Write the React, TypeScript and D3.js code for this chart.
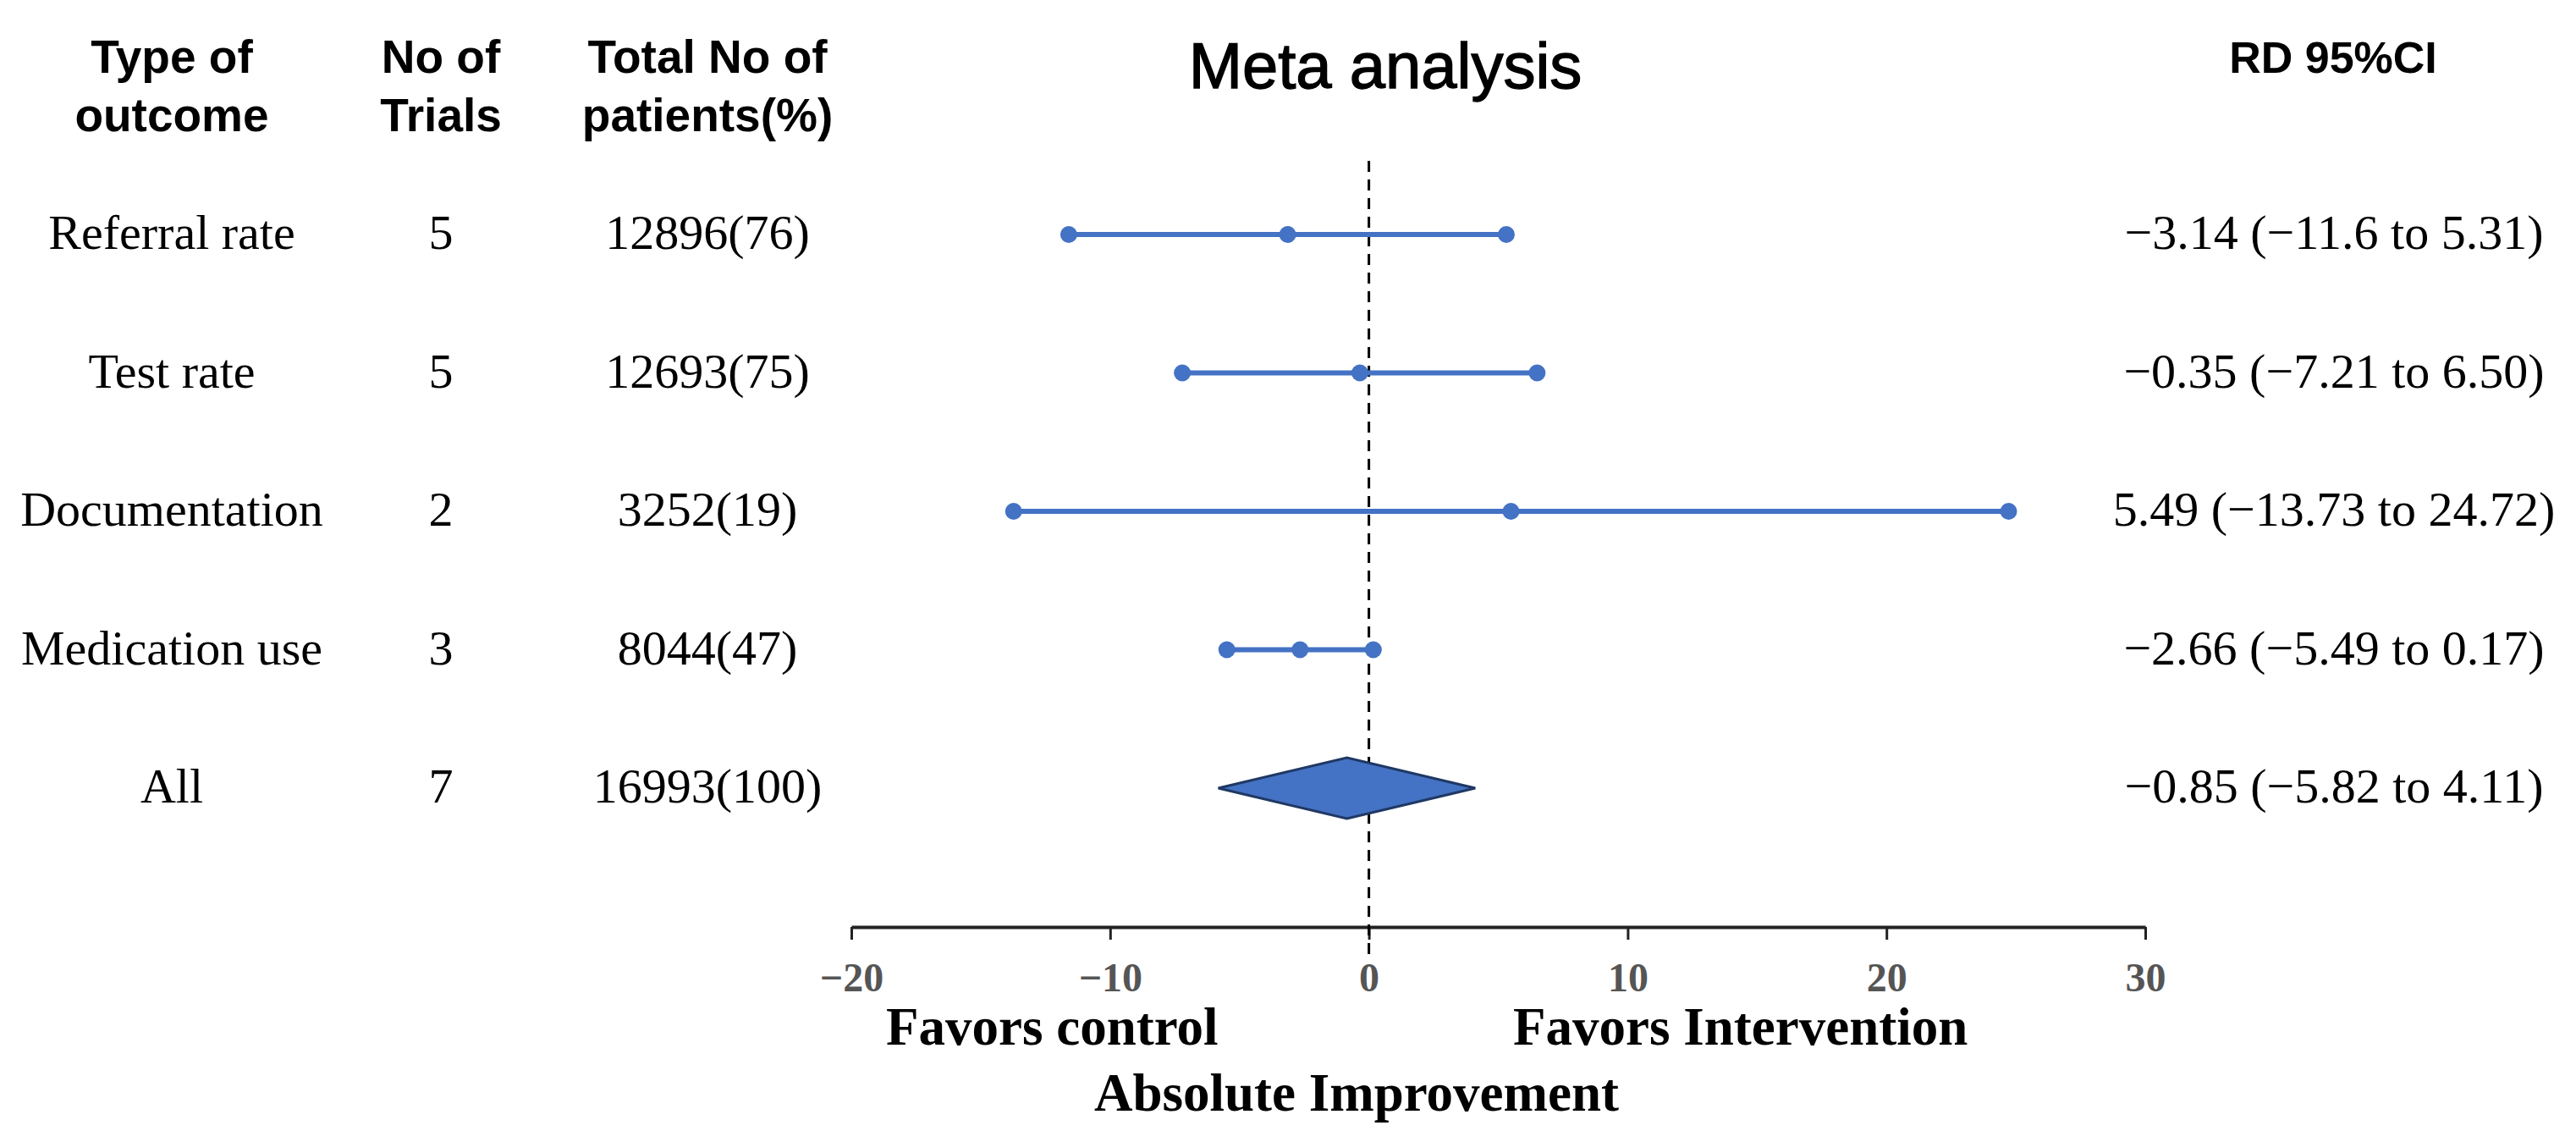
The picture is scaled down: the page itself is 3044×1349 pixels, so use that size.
import React, { useEffect, useRef } from "react";
import * as d3 from "d3";

// table columns
const outcomes = ["Referral rate", "Test rate", "Documentation", "Medication use", "All"];
const trials = [5, 5, 2, 3, 7];
const patients = ["12896(76)", "12693(75)", "3252(19)", "8044(47)", "16993(100)"];

// risk difference and 95% CI
const rd = [-3.14, -0.35, 5.49, -2.66, -0.85];
const ciLow = [-11.6, -7.21, -13.73, -5.49, -5.82];
const ciHigh = [5.31, 6.5, 24.72, 0.17, 4.11];
const ciLabels = [
  "−3.14 (−11.6 to 5.31)",
  "−0.35 (−7.21 to 6.50)",
  "5.49 (−13.73 to 24.72)",
  "−2.66 (−5.49 to 0.17)",
  "−0.85 (−5.82 to 4.11)",
];

const xTicks = [-20, -10, 0, 10, 20, 30];

const BLUE = "#4472C4";
const SANS = "'Liberation Sans', Arial, sans-serif";
const SERIF = "'Liberation Serif', 'Times New Roman', serif";

const App: React.FC = () => {
  const ref = useRef<SVGSVGElement | null>(null);

  useEffect(() => {
    const svg = d3.select(ref.current);
    svg.selectAll("*").remove();

    const x = d3.scaleLinear().domain([-20, 30]).range([1006, 2535]);
    const y = d3.scalePoint().domain(outcomes).range([277, 931]);
    const axisY = 1095;

    const rows = outcomes.map((o, i) => ({
      name: o,
      trials: trials[i],
      patients: patients[i],
      rd: rd[i],
      lo: ciLow[i],
      hi: ciHigh[i],
      label: ciLabels[i],
    }));

    // headers
    const headers = [
      { x: 203, lines: ["Type of", "outcome"] },
      { x: 521, lines: ["No of", "Trials"] },
      { x: 836, lines: ["Total No of", "patients(%)"] },
    ];
    headers.forEach((h) => {
      h.lines.forEach((l, j) => {
        svg
          .append("text")
          .attr("x", h.x)
          .attr("y", 86 + j * 69)
          .attr("text-anchor", "middle")
          .attr("font-family", SANS)
          .attr("font-weight", "bold")
          .attr("font-size", 55)
          .text(l);
      });
    });

    svg
      .append("text")
      .attr("x", 1637)
      .attr("y", 104)
      .attr("text-anchor", "middle")
      .attr("font-family", SANS)
      .attr("font-size", 76)
      .attr("stroke", "#000")
      .attr("stroke-width", 1.4)
      .text("Meta analysis");

    svg
      .append("text")
      .attr("x", 2757)
      .attr("y", 86)
      .attr("text-anchor", "middle")
      .attr("font-family", SANS)
      .attr("font-weight", "bold")
      .attr("font-size", 52)
      .text("RD 95%CI");

    // table text
    const cols: { x: number; get: (d: (typeof rows)[number]) => string | number }[] = [
      { x: 203, get: (d) => d.name },
      { x: 521, get: (d) => d.trials },
      { x: 836, get: (d) => d.patients },
      { x: 2758, get: (d) => d.label },
    ];
    cols.forEach((c) => {
      svg
        .append("g")
        .selectAll("text")
        .data(rows)
        .enter()
        .append("text")
        .attr("x", c.x)
        .attr("y", (d) => (y(d.name) ?? 0) + 17)
        .attr("text-anchor", "middle")
        .attr("font-family", SERIF)
        .attr("font-size", 58)
        .text((d) => String(c.get(d)));
    });

    // axis
    const axis = svg
      .append("g")
      .attr("transform", `translate(0,${axisY})`)
      .call(
        d3
          .axisBottom(x)
          .tickValues(xTicks)
          .tickSize(15)
          .tickSizeOuter(0)
          .tickPadding(27)
      );
    axis.select(".domain").attr("stroke", "#222").attr("stroke-width", 4);
    axis.selectAll(".tick line").attr("stroke", "#222").attr("stroke-width", 3);
    axis
      .selectAll(".tick text")
      .attr("font-family", SERIF)
      .attr("font-weight", "bold")
      .attr("font-size", 48)
      .attr("fill", "#555");

    // zero line
    svg
      .append("line")
      .attr("x1", x(0))
      .attr("x2", x(0))
      .attr("y1", 190)
      .attr("y2", 1128)
      .attr("stroke", "#000")
      .attr("stroke-width", 3)
      .attr("stroke-dasharray", "13 9");

    const studies = rows.filter((d) => d.name !== "All");
    const pooled = rows.filter((d) => d.name === "All");

    const g = svg.append("g");
    g.selectAll("line.ci")
      .data(studies)
      .enter()
      .append("line")
      .attr("class", "ci")
      .attr("x1", (d) => x(d.lo))
      .attr("x2", (d) => x(d.hi))
      .attr("y1", (d) => y(d.name) ?? 0)
      .attr("y2", (d) => y(d.name) ?? 0)
      .attr("stroke", BLUE)
      .attr("stroke-width", 6);

    const pts = studies.flatMap((d) => [d.lo, d.rd, d.hi].map((v) => ({ v, name: d.name })));
    g.selectAll("circle")
      .data(pts)
      .enter()
      .append("circle")
      .attr("cx", (d) => x(d.v))
      .attr("cy", (d) => y(d.name) ?? 0)
      .attr("r", 10)
      .attr("fill", BLUE);

    g.selectAll("path.diamond")
      .data(pooled)
      .enter()
      .append("path")
      .attr("class", "diamond")
      .attr("d", (d) => {
        const cy = y(d.name) ?? 0;
        const h = 36;
        return `M${x(d.lo)},${cy}L${x(d.rd)},${cy - h}L${x(d.hi)},${cy}L${x(d.rd)},${cy + h}Z`;
      })
      .attr("fill", BLUE)
      .attr("stroke", "#1F3864")
      .attr("stroke-width", 3);

    // bottom labels
    const bottom = [
      { x: 1047, y: 1234, anchor: "start", text: "Favors control" },
      { x: 1788, y: 1234, anchor: "start", text: "Favors Intervention" },
      { x: 1603, y: 1312, anchor: "middle", text: "Absolute Improvement" },
    ];
    bottom.forEach((b) => {
      svg
        .append("text")
        .attr("x", b.x)
        .attr("y", b.y)
        .attr("text-anchor", b.anchor)
        .attr("font-family", SERIF)
        .attr("font-weight", "bold")
        .attr("font-size", 63)
        .text(b.text);
    });
  }, []);

  return (
    <svg
      ref={ref}
      width={3044}
      height={1349}
      style={{ position: "absolute", left: 0, top: 0, background: "#fff" }}
    ></svg>
  );
};

export default App;
